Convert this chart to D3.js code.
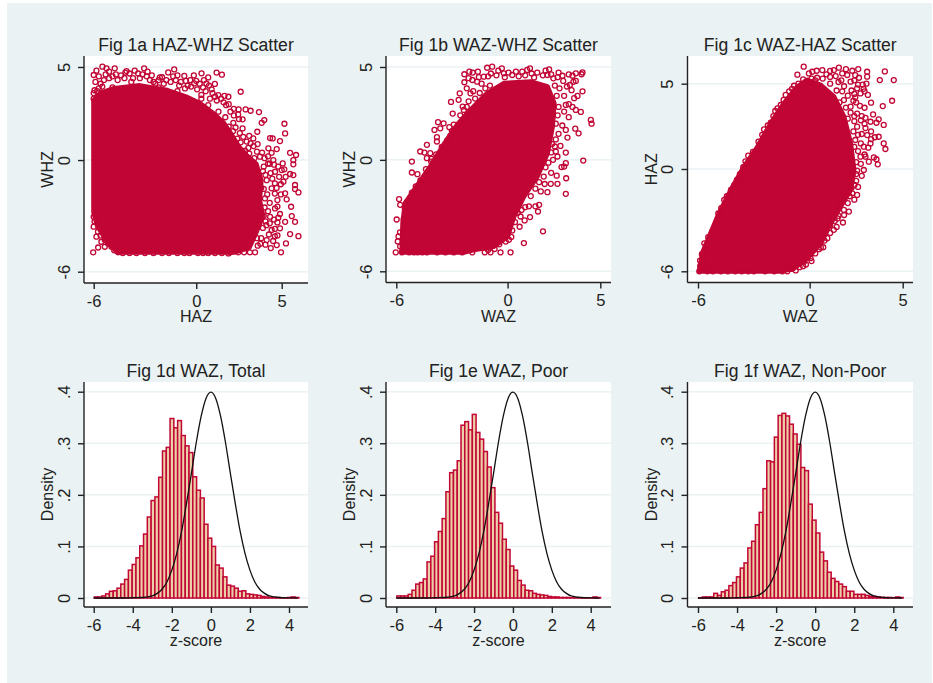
<!DOCTYPE html>
<html>
<head>
<meta charset="utf-8">
<script src="https://cdnjs.cloudflare.com/ajax/libs/d3/7.8.5/d3.min.js"></script>
<style>
    html, body { margin: 0; padding: 0; background: #fff; }
    text { font-family: "Liberation Sans", Arial, sans-serif; fill: #222; }
</style>
</head>
<body>
<div id="chart"></div>
<script>
// values.
// the scatter clouds are too dense to read point by point, so each has an outline
// of the solid part (*Core) plus the separate circles visible around it (*Pts)

const hazWhzPts = [[-6.03,-4.96],[-5.49,5.02],[-4.77,4.93],[-5.25,4.93],[-5.84,4.8],[-6,4.57],[-3.05,4.93],[-3.6,4.8],[-4.08,4.78],[-1.29,4.87],[-1.64,4.71],[-.7,4.52],[.31,4.66],[.7,4.44],[1.19,4.7],[1.5,4.59],[2.6,3.67],[1.09,4.09],[-.14,4.55],[-.12,4.12],[-.66,3.85],[-2.13,4.44],[-2.71,4.3],[1.88,3.4],[1.29,3.49],[2.48,2.72],[2.89,2.72],[3.18,2.65],[3.67,2.58],[3.83,2],[3.98,2.15],[5.16,1.95],[5.2,1.43],[3.57,1.52],[2.71,1.7],[2.71,2.19],[2.17,2],[4.32,1.18],[4.47,1.16],[4.9,1.02],[4.22,.63],[4.71,.59],[4.41,.39],[5.49,.39],[5.84,.27],[5.68,0],[5.68,-.23],[5.06,-.18],[4.51,0],[3.59,.86],[3.34,1.16],[2.95,.99],[3.18,.9],[3.73,.18],[5.98,-1.74],[5.78,-1.34],[5.78,-1.56],[5.68,-.81],[5.49,-.75],[5.23,-.9],[5,-.54],[5.29,-2.11],[5.2,-1.79],[4.75,-2.15],[5.55,-2.51],[5.59,-3.01],[5.78,-3.32],[5.98,-4.09],[5.49,-3.98],[5.2,-3.32],[5.25,-4.48],[4.96,-4.96],[4.36,-4.73],[4.71,-4.57],[4.12,-4.3],[4.41,-3.76],[4.9,-3.67],[4.32,-3.05],[4.61,-2.6],[4.02,-2.06],[4.41,-1.52],[4.12,-1.08],[4.61,-.63],[5.1,-1.16],[3.44,-4.96],[3.14,-4.96],[2.46,-4.96],[1.88,-5.02],[-4.57,-4.96],[-4.96,-4.66],[-5.35,-4.66],[-5.74,-4.7],[-5.55,-4.39],[-5.84,-4.12],[-6,-3.58],[-6,-3.05],[-6,3.6],[-5.8,3.7],[-5.4,4.3],[-5.1,4.4],[-4.6,4.3],[-4.2,4.4],[-3.8,4.2],[-3.3,4.4],[-2.9,4.5],[-2.4,4.1],[-1.9,4.1],[-1.5,4.2],[-1.2,4.3],[-1,4],[-.5,4],[.05,3.8],[.4,3.9],[.6,4.1],[.9,3.8],[1.2,3.2],[1.6,3.1],[1.9,3],[2.2,2.4],[2.5,2.2],[-1.1,3.7],[-2.2,3.9],[-3.5,3.9],[-4.9,3.9],[.3,3.5],[.8,3.3],[3.1,1.3],[4.2,-.2],[3.9,-.6],[3.8,-1.5],[4.7,-1.5],[4.8,-3.1],[4.1,-3.5],[4.6,-4.1],[3.8,-4.2],[3.6,-4.6],[1.1,-5],[.4,-5],[-.4,-5],[-1.1,-5],[-2,-5],[-3,-5],[-3.9,-5],
    [-5.9,4.2],[-5.7,4.5],[-5.6,4.1],[-5.3,4.6],[-5.1,4.75],[-4.9,4.5],[-4.7,4.6],[-4.4,4.55],[-4.15,4.7],[-3.9,4.65],[-3.7,4.4],[-3.4,4.65],[-3.15,4.6],[-2.85,4.75],[-2.6,4.55],[-2.5,4.2],[-2.2,4.3],[-2,4.45],[-1.75,4.3],[-1.35,4.5],[-1.1,4.55],[-.9,4.2],[-.6,4.25],[-.35,4.3],[-.3,3.95],[0,4.25],[.2,4.1],[.45,4.3],[.55,3.7],[.75,4],[.95,3.6],[1.1,3.4],[1.45,3.3],[1.65,3.45],[1.75,2.95],[2,2.6],[2.2,2.75],[2.45,2.45],[2.3,1.75],[2.55,1.45],[2.75,1.25],[3.05,.65],[3.35,.75],[3.55,.45],[3.85,.4],[4,.1],[4.2,.2],[4.3,-.2],[4.55,-.25],[4.8,-.35],[5.15,-.5],[3.95,-.35],[4.05,-.8],[4.35,-.7],[4.45,-1],[4.85,-.9],[4.95,-1.3],[4.6,-1.25],[3.95,-1.55],[4.15,-1.85],[4.6,-1.8],[4.95,-1.85],[4.3,-2.3],[4.75,-2.5],[4,-2.55],[4.2,-2.75],[4.9,-2.9],[3.95,-3],[4.55,-3.2],[4.05,-3.3],[4.3,-3.4],[4.75,-3.35],[3.9,-3.65],[4.6,-3.7],[4.25,-4],[4.75,-4.05],[4.05,-4.55],[3.75,-4.5],[4.5,-4.35],[3.55,-4.2],[2.8,-4.96],[2,-4.96],[1.5,-5],[.7,-5],[-5.95,-3.3],[-5.75,-3.85],[-5.6,-4.05],[-5.35,-4.3],[-5.15,-4.5],[-4.8,-4.85],[-4.3,-5],[-3.5,-5],[-2.5,-5],[-1.6,-5],[-.7,-5],[.1,-5],[-6,3.3],[-5.95,3.75],[-5.7,3.85],[-5.5,3.95],
    [1.3,2.6],[1.7,2.3],[.7,2.95],[.3,3.3],[1.9,1.8],[2.15,1.55],[2.4,1.15],[2.6,.95],[2.85,.5],[3.1,.35],[3.4,.1]];
const hazWhzCore = [[-6,3.2],[-5.6,3.6],[-4.8,3.85],[-3.3,4],[-1.7,3.75],[-.6,3.4],[.2,3.05],[1,2.5],[1.6,2],[2,1.45],[2.5,.7],[3,.2],[3.5,-.2],[3.8,-1.1],[3.7,-2.15],[3.9,-3],[3.5,-3.9],[3.1,-4.7],[2.2,-4.96],[-4.6,-4.96],[-5.2,-4.4],[-5.8,-3.5],[-6,-2.8]];

const wazWhzPts = [[-6.03,-4.98],[-5.98,-3.21],[-5.85,-2.11],[-5.79,-2.42],[-5.43,-2.28],[-5.88,-4.12],[-5.92,-4.39],[-5.79,-4.66],[-5.7,-4.98],[-5.31,-4.98],[-5.16,-.09],[-5.16,-.68],[-5.16,-1.76],[-4.86,-.77],[-4.95,-1.43],[-4.71,.45],[-4.35,.81],[-4.48,.39],[-4.17,.36],[-4.35,.09],[-4.12,-.09],[-3.81,1.22],[-3.81,.99],[-3.94,1.61],[-3.75,2.03],[-3.45,1.97],[-3.63,1.7],[-3.14,1.76],[-3.09,1.29],[-3.05,3.12],[-2.96,2.49],[-2.58,3.58],[-2.64,3.23],[-2.42,2.87],[-2.36,2.69],[-2,3.58],[-2.33,4.18],[-2.33,4.61],[-2.06,4.75],[-1.88,4.7],[-1.6,4.75],[-1.64,4.21],[-1.28,4.48],[-1.1,4.96],[-.83,5.02],[-.31,4.93],[-.2,4.66],[.25,4.57],[.79,4.75],[1.06,4.84],[1.21,4.93],[1.43,4.44],[2.24,4.87],[2.15,4.57],[2.96,4.53],[2.47,4.39],[3.5,4.53],[3.68,4.66],[4.04,4.71],[3.99,4.61],[3.68,4.25],[3.36,4.03],[4.04,3.69],[3.77,3.44],[3.59,3.32],[3.95,2.58],[3.68,2.69],[3.14,2.96],[4.49,2.15],[4.53,1.95],[3.65,1.68],[3.83,1.43],[3.23,1.2],[3.14,1.61],[3.14,.39],[4.08,-.04],[3.14,-.18],[3.05,-.36],[3.16,-.99],[3.14,-1.83],[2.69,-1.29],[2.33,-1.29],[2.91,-.39],[2.69,.18],[2.55,.72],[2.15,-1.74],[1.79,-1.7],[1.7,-2.42],[1.64,-2.78],[1.21,-3.08],[.92,-3.26],[.7,-3.05],[1.91,-3.85],[.88,-4.48],[.16,-4.98],[-.38,-4.98],[.07,-4.3],[-.92,-4.98],[-1.23,-4.98],[-2.45,-4.98],[-3.35,-4.98],[-4.35,-4.98],[-4.85,-4.98],
    [-2.1,4.4],[-1.9,4.3],[-1.55,4.45],[-1.4,4.1],[-1.05,4.5],[-.9,4.65],[-.6,4.55],[-.5,4.8],[-.15,4.45],[.05,4.7],[.45,4.75],[.6,4.5],[.95,4.55],[1.3,4.65],[1.6,4.7],[1.9,4.55],[2.05,4.8],[2.35,4.6],[2.7,4.45],[2.75,4.7],[3.3,4.6],[2.55,4],[2.8,3.85],[3,4.25],[3.2,3.95],[3.45,3.75],[3.55,4.2],[2.65,3.45],[3.05,3.45],[3.3,3],[3.5,2.85],[2.75,2.85],[3.05,2.6],[3.3,2.3],[2.7,2.4],[2.6,1.95],[2.95,1.85],[2.75,1.4],[2.6,1.1],[2.4,.85],[2.85,.75],[2.6,.45],[2.35,.4],[2.45,0],[2.2,-.15],[2.05,-.4],[2.35,-.7],[2.65,-.85],[1.95,-.9],[1.7,-1.2],[2,-1.3],[1.5,-1.55],[1.25,-1.95],[1.5,-2.5],[1.15,-2.5],[.95,-2.55],[.75,-2.7],[.55,-2.85],[.4,-3.35],[.65,-3.6],[.25,-3.8],[.2,-4.15],[-.1,-4.4],[-.45,-4.55],[-.7,-4.8],[-1.05,-4.85],[-1.9,-4.98],[-2.9,-4.98],[-3.8,-4.98],[-4.6,-4.98],[-5.05,-4.98],[-5.55,-4.8],[-5.8,-3.9],[-5.6,-3.2],[-5.55,-2.55],[-5.25,-2.05],[-5,-1.85],[-4.7,-1.1],[-4.4,-.5],[-4.1,.05],[-3.85,.3],[-3.55,.7],[-3.25,1.05],[-3,1.55],[-2.9,1.9],[-2.55,2.4],[-2.2,2.85],[-2.1,3.15],[-1.75,3.3],[-1.85,3.7],[-1.5,3.6],[-1.2,3.85],[-.95,4],[-2.2,3.85]];
const wazWhzCore = [[-5.7,-4.98],[-5.65,-3.4],[-5.52,-2.33],[-4.9,-1.43],[-4.17,-.36],[-3.45,.8],[-2.72,1.88],[-2,2.69],[-1.1,3.58],[-.2,4.12],[1.24,4.21],[2.15,3.94],[2.51,3.05],[2.42,1.79],[2.15,.36],[1.6,-.9],[.88,-1.97],[.34,-3.05],[0,-4.12],[-.74,-4.66],[-1.82,-4.84],[-2.36,-4.98]];

const wazHazPts = [[-5.93,-6],[-5.88,-5.68],[-5.89,-5.37],[-5.79,-5],[-5.66,-4.36],[-5.45,-4],[-5.57,-4.9],[-5.2,-6],[-4.77,-6],[-4,-6],[-3.65,-6],[-2.4,-6],[-1.9,-6],[-1.46,-6],[-.96,-5.86],[-.54,-5.76],[-.3,-5.43],[.05,-5.23],[.73,-4.59],[.95,-4.06],[1.3,-3.57],[1.79,-3.14],[2.11,-2.5],[1.84,-2.4],[1.66,-2.01],[2.55,-1.52],[2.29,-1.43],[2.41,-.94],[2.11,-.74],[2.91,-.06],[3.18,.43],[3.66,.27],[3.59,.57],[3.45,.68],[3,.72],[4.07,1.17],[3.98,1.5],[3.71,1.89],[3.5,1.86],[3.27,1.5],[3.09,1.99],[3.98,2.58],[3.71,2.91],[3.59,2.71],[3.41,3.2],[3.27,2.77],[2.95,3.59],[3.93,3.69],[4.43,4],[3.3,3.89],[3.13,4.34],[2.73,4.43],[4.52,5.21],[3.77,5.21],[4.04,5.72],[3.09,5.7],[3.09,5.41],[2.61,5.86],[2.29,5.76],[1.57,5.94],[1.3,5.8],[.68,5.8],[.38,5.76],[.14,5.7],[-.32,6],[-.66,5.53],[-.04,5.6],[-.84,4.88],[-1.29,4.34],[-1.73,3.55],[-2.09,2.71],[-2.45,2.32],[-3.3,.78],[-3.57,.1],[-3.91,-.64],[-4.23,-1.23],[-4.59,-1.82],[-4.91,-2.6],[2.55,4.73],[2.2,5.12],[2.02,5.51],[1.1,5.4],[1.1,5],[1.84,4.04],[2.2,3.65],[2.55,2.48],[2.91,1.31],[2.73,.72],[2.4,4.4],[2.9,4.7],[3.05,5],[2.4,5.2],[1.7,5.2],[.7,5.3],[.3,5.2],[-.2,5.1],[2.5,3.9],[2.8,3.1],[2.4,3.1],[3,2.4],[3.3,2.2],[2.6,2],[2.8,-.4],[2.5,-.3],[2.25,-1.1],[1.5,-2.9],[1.1,-3.3],[.5,-4.7],[-.2,-5.6],
    [.4,5.35],[.1,5.3],[.9,5.55],[1.1,5.75],[1.4,5.45],[1.75,5.6],[1.95,5.85],[2.45,5.5],[2.65,5.35],[1.55,5.1],[1.85,4.85],[2.25,4.6],[2.6,4.95],[2.85,4.95],[2.95,4.55],[2.45,4.2],[1.75,4.55],[1.45,4.6],[2.05,4.3],[2.35,4],[1.6,3.9],[1.95,3.6],[2.7,3.7],[2.55,3.25],[2.2,3.3],[2.05,2.95],[2.4,2.8],[2.75,2.85],[3,3],[2.95,2.65],[2.35,2.2],[2.8,2.05],[2.45,1.7],[2.75,1.5],[3.15,1.25],[3.3,1.75],[2.4,1.3],[2.6,1.05],[2.95,.85],[2.5,.4],[2.75,.3],[2.55,-.1],[2.3,-.35],[2.5,-.7],[2.6,-1.05],[2.15,-1.6],[2.4,-1.8],[2.05,-2],[1.85,-2.7],[1.55,-2.75],[1.35,-3.05],[1.45,-3.4],[1.1,-3.75],[.8,-4.2],[.6,-4.6],[.3,-4.95],[.1,-5.4],[-.35,-5.7],[-.75,-5.95],[-1.2,-6],[-3,-6],[-3.3,-6],[-4.4,-6],[-5.5,-6],[-5.85,-5.85],[-5.75,-5.5],[-5.7,-5.2],[-5.55,-4.5],[-5.25,-3.7],[-5,-3.1],[-4.75,-2.3],[-4.45,-1.6],[-4.05,-.95],[-3.75,-.3],[-3.45,.45],[-3.05,1],[-2.75,1.6],[-2.55,2],[-2.25,2.55],[-1.95,3.1],[-1.85,3.4],[-1.55,3.75],[-1.4,4.05],[-1.1,4.55],[-.95,4.7],[-.6,5],[-.35,5.25]];
const wazHazCore = [[-5.93,-6],[-5.75,-4.9],[-5.39,-3.96],[-4.91,-2.7],[-4.23,-1.23],[-3.52,.14],[-2.8,1.3],[-2.09,2.67],[-1.38,3.85],[-.66,4.82],[-.13,5.21],[.59,4.92],[1.3,4.24],[1.84,3.07],[2.2,1.5],[2.38,-.06],[2.2,-1.23],[1.66,-2.2],[1.13,-3.18],[.59,-4.36],[-.13,-5.24],[-.84,-5.82],[-1.55,-6]];

// density per bin, left to right
const densityTotal = [.002,.002,.004,.008,.013,.014,.019,.027,.036,.054,.065,.078,.101,.124,.157,.189,.196,.234,.285,.292,.348,.33,.344,.315,.295,.282,.235,.209,.194,.143,.116,.1,.064,.058,.041,.025,.023,.019,.013,.014,.008,.007,.006,.005,.003,.002,.001,.001,.001,.0005,.0005,.001,.002,.001];
const densityPoor = [.004,.004,.004,.007,.015,.027,.03,.037,.07,.081,.109,.129,.154,.206,.243,.248,.266,.335,.342,.326,.356,.321,.308,.284,.254,.214,.166,.145,.114,.094,.062,.054,.034,.025,.015,.014,.009,.007,.006,.005,.003,.002,.002,.001,.001,.001,.0005,.0005,.0005,.0005,.0005,.0005,.002,.001];
const densityNonPoor = [.0005,.002,.002,.002,.009,.005,.012,.015,.024,.03,.041,.058,.068,.097,.11,.142,.166,.212,.266,.264,.312,.354,.358,.353,.337,.318,.298,.253,.247,.182,.151,.126,.089,.072,.05,.038,.032,.027,.022,.013,.013,.007,.007,.007,.005,.003,.003,.002,.001,.001,.001,.0005,.002,.001];
const binStart = -5.97;
const binWidth = .194;

// the black reference curve
const refZ = [-6,-4.5,-4,-3.5,-3,-2.75,-2.5,-2.25,-2,-1.75,-1.5,-1.25,-1,-.75,-.5,-.25,0,.25,.5,.75,1,1.25,1.5,1.75,2,2.25,2.5,2.75,3,3.5,4,4.45];
const refDensity = [0,0,.0005,.001,.004,.009,.017,.031,.054,.086,.129,.183,.241,.301,.352,.387,.399,.387,.352,.301,.241,.183,.129,.086,.054,.031,.017,.009,.004,.001,.0003,0];

const scatterXTicks = [-6, 0, 5];
const scatterYTicks = [-6, 0, 5];
const histXTicks = [-6, -4, -2, 0, 2, 4];
const histYTicks = [0, .1, .2, .3, .4];

const bgColor = '#eaf2f3';
const markColor = '#c10534';
const barFill = '#eccfa8';

const svg = d3.select('#chart')
    .append('svg')
    .attr('width', 933)
    .attr('height', 683)
    .style('display', 'block');

svg.append('rect')
    .attr('x', 7).attr('y', 3)
    .attr('width', 925).attr('height', 680)
    .attr('fill', bgColor);

function makePanel(box, xDomain, xRange, yDomain, yRange, xTicks, yTicks, yFormat, title, xLabel, yLabel) {
    const g = svg.append('g');
    const x = d3.scaleLinear().domain(xDomain).range(xRange);
    const y = d3.scaleLinear().domain(yDomain).range(yRange);

    g.append('rect')
        .attr('x', box.left).attr('y', box.top)
        .attr('width', box.right - box.left)
        .attr('height', box.bottom - box.top)
        .attr('fill', '#fff');

    g.selectAll('.grid')
        .data(yTicks)
        .enter().append('line')
        .attr('class', 'grid')
        .attr('x1', box.left).attr('x2', box.right)
        .attr('y1', d => y(d)).attr('y2', d => y(d))
        .attr('stroke', bgColor)
        .attr('stroke-width', 1.5);

    const marks = g.append('g');

    const xAxis = g.append('g')
        .attr('transform', 'translate(0,' + box.bottom + ')')
        .call(d3.axisBottom(x).tickValues(xTicks).tickSize(6).tickPadding(6).tickFormat(d => d));
    xAxis.select('.domain').attr('d', 'M' + box.left + ',0H' + box.right);

    const yAxis = g.append('g')
        .attr('transform', 'translate(' + box.left + ',0)')
        .call(d3.axisLeft(y).tickValues(yTicks).tickSize(6).tickFormat(yFormat));
    yAxis.select('.domain').attr('d', 'M0,' + box.top + 'V' + box.bottom);

    g.selectAll('.domain, .tick line')
        .attr('stroke', '#222')
        .attr('stroke-width', 1.4);

    xAxis.selectAll('text')
        .style('font-size', '16.5px');

    yAxis.selectAll('text')
        .style('font-size', '16.5px')
        .attr('text-anchor', 'middle')
        .attr('x', null)
        .attr('dy', null)
        .attr('transform', 'translate(-14.5,0) rotate(-90)');

    g.append('text')
        .attr('x', (box.left + box.right) / 2)
        .attr('y', box.top - 5)
        .attr('text-anchor', 'middle')
        .style('font-size', '17.6px')
        .text(title);

    g.append('text')
        .attr('x', (box.left + box.right) / 2)
        .attr('y', box.bottom + 39)
        .attr('text-anchor', 'middle')
        .style('font-size', '16px')
        .text(xLabel);

    g.append('text')
        .attr('transform', 'translate(' + (box.left - 31) + ',' + (box.top + box.bottom) / 2 + ') rotate(-90)')
        .attr('text-anchor', 'middle')
        .style('font-size', '16px')
        .text(yLabel);

    return { marks, x, y };
}

function drawScatter(panel, core, pts) {
    const line = d3.line().x(d => panel.x(d[0])).y(d => panel.y(d[1])).curve(d3.curveLinearClosed);

    panel.marks.append('path')
        .attr('d', line(core))
        .attr('fill', markColor)
        .attr('stroke', markColor)
        .attr('stroke-width', 5)
        .attr('stroke-linejoin', 'round');

    panel.marks.selectAll('circle')
        .data(pts)
        .enter().append('circle')
        .attr('cx', d => panel.x(d[0]))
        .attr('cy', d => panel.y(d[1]))
        .attr('r', 2.5)
        .attr('fill', 'none')
        .attr('stroke', markColor)
        .attr('stroke-width', 1.3);
}

function drawHist(panel, density) {
    const y0 = panel.y(0);

    panel.marks.selectAll('rect')
        .data(density)
        .enter().append('rect')
        .attr('x', (d, i) => panel.x(binStart + i * binWidth))
        .attr('y', d => panel.y(d))
        .attr('width', (d, i) => panel.x(binStart + (i + 1) * binWidth) - panel.x(binStart + i * binWidth))
        .attr('height', d => y0 - panel.y(d))
        .attr('fill', barFill)
        .attr('stroke', markColor)
        .attr('stroke-width', 1.5);

    const line = d3.line().x((d, i) => panel.x(refZ[i])).y(d => panel.y(d)).curve(d3.curveMonotoneX);

    panel.marks.append('path')
        .attr('d', line(refDensity))
        .attr('fill', 'none')
        .attr('stroke', '#111')
        .attr('stroke-width', 1.3);
}

const yFmtPlain = d => d;
const yFmtDensity = d => d === 0 ? '0' : String(d).replace('0.', '.');

const boxA = { left: 84, right: 308, top: 56, bottom: 283 };
const boxB = { left: 386, right: 611, top: 56, bottom: 282.5 };
const boxC = { left: 687.5, right: 913, top: 56, bottom: 282.5 };
const boxD = { left: 84, right: 308, top: 382, bottom: 607 };
const boxE = { left: 386, right: 611, top: 382, bottom: 607 };
const boxF = { left: 687.5, right: 913, top: 382, bottom: 607 };

const panelA = makePanel(boxA, [-6, 5], [93.7, 281.7], [-6, 5], [271.7, 67], scatterXTicks, scatterYTicks, yFmtPlain, 'Fig 1a HAZ-WHZ Scatter', 'HAZ', 'WHZ');
const panelB = makePanel(boxB, [-6, 5], [396.3, 600.3], [-6, 5], [271.3, 67], scatterXTicks, scatterYTicks, yFmtPlain, 'Fig 1b WAZ-WHZ Scatter', 'WAZ', 'WHZ');
const panelC = makePanel(boxC, [-6, 5], [698, 902.7], [-6, 5], [271.3, 83.7], scatterXTicks, scatterYTicks, yFmtPlain, 'Fig 1c WAZ-HAZ Scatter', 'WAZ', 'HAZ');
const panelD = makePanel(boxD, [-6, 4], [93.7, 289], [0, .4], [598, 391.7], histXTicks, histYTicks, yFmtDensity, 'Fig 1d WAZ, Total', 'z-score', 'Density');
const panelE = makePanel(boxE, [-6, 4], [396.3, 590.7], [0, .4], [598, 391.7], histXTicks, histYTicks, yFmtDensity, 'Fig 1e WAZ, Poor', 'z-score', 'Density');
const panelF = makePanel(boxF, [-6, 4], [698, 893.3], [0, .4], [598, 391.7], histXTicks, histYTicks, yFmtDensity, 'Fig 1f WAZ, Non-Poor', 'z-score', 'Density');

drawScatter(panelA, hazWhzCore, hazWhzPts);
drawScatter(panelB, wazWhzCore, wazWhzPts);
drawScatter(panelC, wazHazCore, wazHazPts);
drawHist(panelD, densityTotal);
drawHist(panelE, densityPoor);
drawHist(panelF, densityNonPoor);
</script>
</body>
</html>
